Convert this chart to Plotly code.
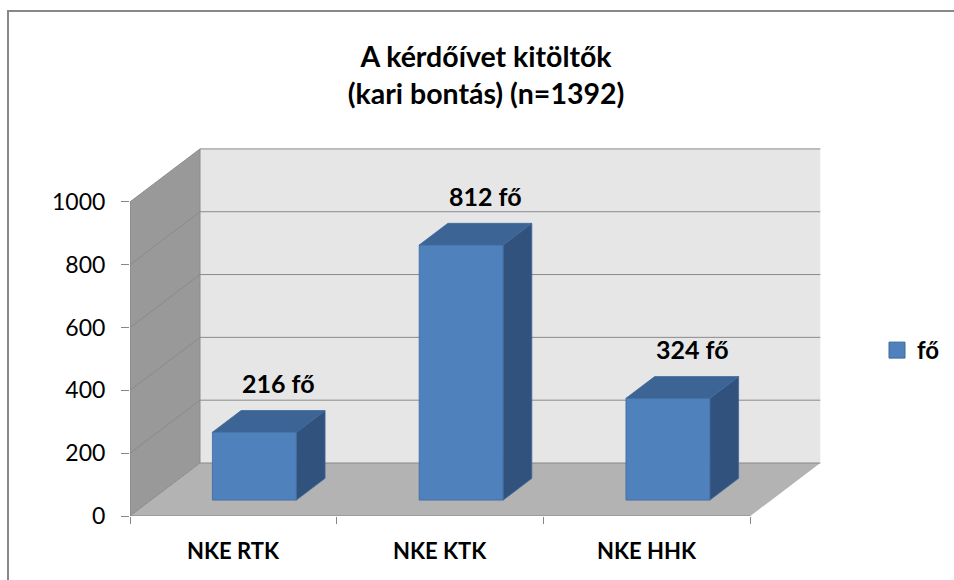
import plotly.graph_objects as go

# ---- data ----
categories = ["NKE RTK", "NKE KTK", "NKE HHK"]
values = [216, 812, 324]
series_name = "fő"
y_ticks = [0, 200, 400, 600, 800, 1000]
title_text = "A kérdőívet kitöltők<br>(kari bontás) (n=1392)"

# ---- geometry / style ----
W, H = 954, 580
M_L, M_R, M_T, M_B = 130, 121, 146, 64
X_MAX = 3.4
Y_MAX = 1178
PLOT_W = W - M_L - M_R
PLOT_H = H - M_T - M_B
PX_X = PLOT_W / X_MAX
PX_Y = PLOT_H / Y_MAX

DX = 70 / PX_X          # depth shift (category units)
DY = 53 / PX_Y          # depth shift (value units)
D_FRONT, D_BACK = 0.30, 0.71
HALF_W = 0.203
AX_MAX = 1000

FONT = "Lato"
BACK_WALL = "#e6e6e6"
SIDE_WALL = "#999999"
FLOOR = "#b3b3b3"
GRID = "#8a8a8a"
AXIS = "#868686"
BAR_FRONT = "#4f81bd"
BAR_TOP = "#3c6494"
BAR_SIDE = "#31527c"
BAR_EDGE = "#3f6a9c"


def poly(xs, ys, color, line_color=None, lw=0):
    return go.Scatter(
        x=xs + [xs[0]], y=ys + [ys[0]], mode="lines", fill="toself",
        fillcolor=color,
        line=dict(color=line_color or color, width=lw),
        hoverinfo="skip", showlegend=False)


def seg(xs, ys, color, lw=1):
    return go.Scatter(x=xs, y=ys, mode="lines", line=dict(color=color, width=lw),
                      hoverinfo="skip", showlegend=False)


n = len(categories)
fig = go.Figure()

# walls and floor
fig.add_trace(poly([0, DX, DX, 0], [0, DY, AX_MAX + DY, AX_MAX], SIDE_WALL))
fig.add_trace(poly([DX, n + DX, n + DX, DX], [DY, DY, AX_MAX + DY, AX_MAX + DY], BACK_WALL))
fig.add_trace(poly([0, n, n + DX, DX], [0, 0, DY, DY], FLOOR))

# gridlines on walls
for v in y_ticks:
    fig.add_trace(seg([0, DX, n + DX], [v, v + DY, v + DY], GRID, 1))
fig.add_trace(seg([DX, DX], [DY, AX_MAX + DY], GRID, 1))

# axis lines
fig.add_trace(seg([0, 0], [0, AX_MAX], AXIS, 1))
fig.add_trace(seg([0, n], [0, 0], AXIS, 1))

# bars
fx, fy = D_FRONT * DX, D_FRONT * DY
bx, by = D_BACK * DX, D_BACK * DY
annotations = []
for i, (cat, v) in enumerate(zip(categories, values)):
    c = i + 0.5
    xl, xr = c - HALF_W, c + HALF_W
    # side
    fig.add_trace(poly([xr + fx, xr + bx, xr + bx, xr + fx],
                       [fy, by, v + by, v + fy], BAR_SIDE, BAR_EDGE, 0.8))
    # top
    fig.add_trace(poly([xl + fx, xr + fx, xr + bx, xl + bx],
                       [v + fy, v + fy, v + by, v + by], BAR_TOP, BAR_EDGE, 0.8))
    # front
    fig.add_trace(poly([xl + fx, xr + fx, xr + fx, xl + fx],
                       [fy, fy, v + fy, v + fy], BAR_FRONT, BAR_EDGE, 0.8))
    annotations.append(dict(
        x=c + (fx + bx) / 2, y=v + (fy + by) / 2, xref="x", yref="y",
        text=f"{v} {series_name}", showarrow=False, xshift=10, yshift=38,
        font=dict(family=FONT, size=25, color="#000000", weight="bold")))
    annotations.append(dict(
        x=c, y=0, xref="x", yref="y", text=cat, showarrow=False, yshift=-34,
        font=dict(family=FONT, size=22, color="#000000", weight="bold")))

# legend entry
fig.add_trace(go.Scatter(
    x=[None], y=[None], mode="markers", name=series_name,
    marker=dict(symbol="square", size=16, color=BAR_FRONT,
                line=dict(color=BAR_EDGE, width=1))))


def px2paper_x(px):
    return (px - M_L) / PLOT_W


def px2paper_y(py):
    return (H - M_B - py) / PLOT_H


bx0, bx1 = px2paper_x(8), px2paper_x(W + 10)
by0, by1 = px2paper_y(H + 10), px2paper_y(11)
frame_path = f"M {bx0},{by0} L {bx0},{by1} L {bx1},{by1}"

fig.update_layout(
    width=W, height=H,
    margin=dict(l=M_L, r=M_R, t=M_T, b=M_B, autoexpand=False),
    paper_bgcolor="white", plot_bgcolor="white",
    font=dict(family=FONT, color="#000000"),
    title=dict(text=title_text, x=486 / W, xanchor="center", xref="container",
               y=1 - 67 / H, yanchor="middle", yref="container",
               font=dict(family=FONT, size=28.5, weight="bold", color="#000000")),
    xaxis=dict(range=[0, X_MAX], showgrid=False, zeroline=False, showline=False,
               tickvals=list(range(n + 1)), ticktext=[""] * (n + 1),
               ticks="outside", ticklen=7, tickcolor=AXIS, tickwidth=1,
               fixedrange=True),
    yaxis=dict(range=[0, Y_MAX], showgrid=False, zeroline=False, showline=False,
               tickvals=y_ticks, ticks="outside", ticklen=8, tickcolor=AXIS,
               tickwidth=1, ticklabelstandoff=11,
               tickfont=dict(family=FONT, size=23, color="#000000"),
               fixedrange=True),
    showlegend=True,
    legend=dict(x=px2paper_x(877), xanchor="left", y=px2paper_y(350.5),
                yanchor="middle", bgcolor="rgba(0,0,0,0)",
                font=dict(family=FONT, size=24, weight="bold", color="#000000")),
    annotations=annotations,
    shapes=[dict(type="path", xref="paper", yref="paper", path=frame_path,
                 line=dict(color="#888888", width=2), layer="above")],
)

fig.write_html("out.html", config={"displayModeBar": False},
               post_script="document.body.style.margin='0';"
                           "document.body.style.overflow='hidden';")
